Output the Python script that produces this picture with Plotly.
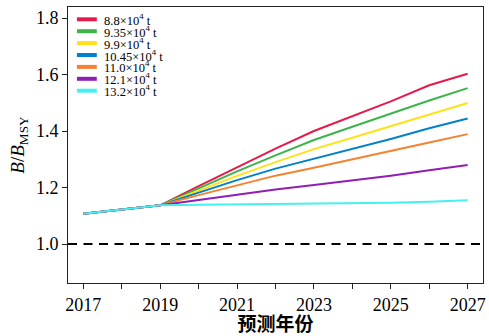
import plotly.graph_objects as go

# Projection years and B/B_MSY trajectories for each catch scenario
years = list(range(2017, 2028))
scenarios = ["8.8", "9.35", "9.9", "10.45", "11.0", "12.1", "13.2"]
colors = ["#E6194B", "#3CB44B", "#FFE119", "#0082C8", "#F58231", "#911EB4", "#46F0F0"]

b_88 = [1.107, 1.123, 1.137, 1.205, 1.272, 1.338, 1.400, 1.452, 1.505, 1.562, 1.603]
b_935 = [1.107, 1.123, 1.137, 1.197, 1.257, 1.314, 1.368, 1.415, 1.462, 1.508, 1.552]
b_99 = [1.107, 1.123, 1.137, 1.189, 1.241, 1.290, 1.336, 1.376, 1.417, 1.458, 1.499]
b_1045 = [1.107, 1.123, 1.137, 1.182, 1.226, 1.267, 1.302, 1.336, 1.372, 1.410, 1.444]
b_110 = [1.107, 1.123, 1.137, 1.173, 1.208, 1.242, 1.270, 1.299, 1.329, 1.359, 1.389]
b_121 = [1.107, 1.123, 1.137, 1.156, 1.175, 1.193, 1.209, 1.225, 1.242, 1.261, 1.280]
b_132 = [1.107, 1.123, 1.137, 1.139, 1.140, 1.141, 1.142, 1.144, 1.146, 1.150, 1.155]
series = [b_88, b_935, b_99, b_1045, b_110, b_121, b_132]

reference_level = 1.0
y_ticks = [1.0, 1.2, 1.4, 1.6, 1.8]
x_ticks = [2017, 2019, 2021, 2023, 2025, 2027]

serif = "Liberation Serif, Times New Roman, serif"

fig = go.Figure()
for name, vals, col in zip(scenarios, series, colors):
    fig.add_trace(go.Scatter(
        x=years, y=vals, mode="lines", name=f"{name}×10<sup>4</sup> t",
        line=dict(color=col, width=2), showlegend=False,
    ))

# B = B_MSY reference line
fig.add_shape(type="line", xref="paper", x0=0, x1=1, yref="y",
              y0=reference_level, y1=reference_level,
              line=dict(color="black", width=2, dash="9px,6.5px"))

# Compact legend drawn as short line samples with labels
W, H = 489, 336
ml, mr, mt, mb = 68, 3, 7, 53
pw, ph = W - ml - mr, H - mt - mb
row0, step = 19.3, 11.9
for i, (name, col) in enumerate(zip(scenarios, colors)):
    yc = row0 + i * step
    yp = 1 - (yc - mt) / ph
    fig.add_shape(type="line", xref="paper", yref="paper",
                  x0=(77 - ml) / pw, x1=(97 - ml) / pw, y0=yp, y1=yp,
                  line=dict(color=col, width=4))
    fig.add_annotation(xref="paper", yref="paper", x=(103.5 - ml) / pw, y=yp,
                       xanchor="left", yanchor="middle", showarrow=False,
                       text=f"{name}×10<sup>4</sup> t", height=11, borderpad=0,
                       font=dict(family=serif, size=12.5, color="black"))

axis_common = dict(
    showline=True, linecolor="#222", linewidth=1, mirror=True,
    ticks="outside", ticklen=5, tickcolor="#222", showgrid=False, zeroline=False,
    tickfont=dict(family=serif, size=18, color="black"),
)

fig.update_xaxes(
    range=[2016.6, 2027.4], tickvals=x_ticks,
    minor=dict(ticks="outside", ticklen=5, tickcolor="#222", dtick=1, tick0=2017, showgrid=False),
    title=dict(text="预测年份", standoff=2,
               font=dict(family="Noto Sans CJK SC", size=19, color="black", weight="bold")),
    **axis_common,
)
fig.update_yaxes(
    range=[0.862, 1.839], tickvals=y_ticks, tickformat=".1f",
    title=dict(text="<i>B</i>/<i>B</i><sub>MSY</sub>", standoff=6,
               font=dict(family=serif, size=19, color="black")),
    **axis_common,
)

fig.update_layout(
    width=W, height=H,
    margin=dict(l=ml, r=mr, t=mt, b=mb),
    plot_bgcolor="white", paper_bgcolor="white",
)

fig.write_html("out.html")
